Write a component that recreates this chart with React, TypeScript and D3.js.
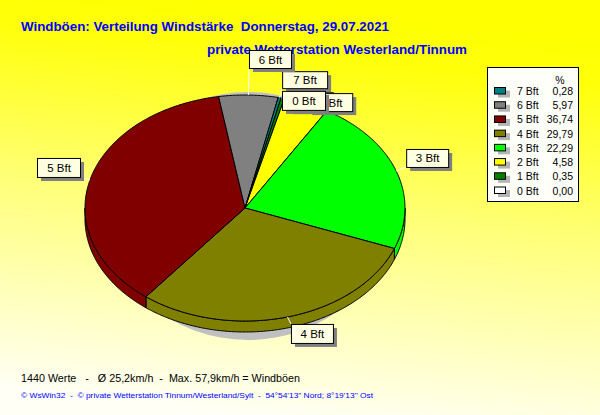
import React from "react";
import * as d3 from "d3";

// ---- data ----
const categories = ["0 Bft", "1 Bft", "2 Bft", "3 Bft", "4 Bft", "5 Bft", "6 Bft", "7 Bft"];
const percents = [0.0, 0.35, 4.58, 22.29, 29.79, 36.74, 5.97, 0.28];
const sliceColors = ["#ffffff", "#008000", "#ffff00", "#00ff00", "#808000", "#800000", "#808080", "#008080"];
const titleLine1 = "Windböen: Verteilung Windstärke  Donnerstag, 29.07.2021";
const titleLine2 = "private Wetterstation Westerland/Tinnum";
const footer1 = "1440 Werte   -   Ø 25,2km/h  -  Max. 57,9km/h = Windböen";
const footer2 = "© WsWin32  -  © private Wetterstation Tinnum/Westerland/Sylt  -  54°54'13\" Nord; 8°19'13\" Ost";

// ---- layout ----
const W = 600, H = 415;
const cx = 245, cy = 208, rx = 160, ry = 113, depth = 11;
const startDeg = 13;
// label box offsets relative to the slice anchor (dx, dy of box top-left), box size
const labelBoxes: Record<string, { dx: number; dy: number; w: number; h: number }> = {
  "1 Bft": { dx: 6, dy: -6, w: 44, h: 18 },
  "2 Bft": { dx: 2, dy: -10.5, w: 44, h: 18 },
  "0 Bft": { dx: 1, dy: -7, w: 43, h: 19 },
  "7 Bft": { dx: 2.5, dy: -26.5, w: 45, h: 17 },
  "6 Bft": { dx: 0.5, dy: -45, w: 42, h: 18 },
  "3 Bft": { dx: 10, dy: -22, w: 42, h: 18 },
  "4 Bft": { dx: 3.5, dy: 7, w: 42, h: 19 },
  "5 Bft": { dx: -53, dy: -22, w: 43, h: 19 },
};
const labelOrder = ["1 Bft", "2 Bft", "7 Bft", "0 Bft", "6 Bft", "3 Bft", "4 Bft", "5 Bft"];

const fmt = (v: number) => d3.format(".2f")(v).replace(".", ",");

function pt(a: number, dy = 0): [number, number] {
  return [cx + rx * Math.sin(a), cy - ry * Math.cos(a) + dy];
}
function arcPts(a0: number, a1: number, dy = 0): [number, number][] {
  const n = Math.max(2, Math.ceil(Math.abs(a1 - a0) / (Math.PI / 360)));
  return d3.range(n + 1).map((i) => pt(a0 + ((a1 - a0) * i) / n, dy));
}

export default function App() {
  const start = (startDeg * Math.PI) / 180;
  const pie = d3.pie<number>().sort(null).value((d) => d).startAngle(start).endAngle(start + 2 * Math.PI);
  const arcs = pie(percents);
  const line = d3.line();

  const sides = arcs
    .map((a, i) => {
      const s = Math.max(a.startAngle, Math.PI / 2);
      const e = Math.min(a.endAngle, (3 * Math.PI) / 2);
      if (e <= s) return null;
      const pts = [...arcPts(s, e), ...arcPts(e, s, depth)];
      return { i, d: line(pts) + "Z" };
    })
    .filter(Boolean) as { i: number; d: string }[];

  const tops = arcs
    .filter((a) => a.endAngle - a.startAngle > 0)
    .map((a) => {
      const pts: [number, number][] = [[cx, cy], ...arcPts(a.startAngle, a.endAngle)];
      return { i: a.index, d: line(pts) + "Z" };
    });

  const legendRows = d3.range(categories.length).reverse();
  const legY = d3.scaleLinear().domain([0, 7]).range([91, 190.5]);

  return (
    <svg width={W} height={H} style={{ position: "absolute", left: 0, top: 0, display: "block" }} fontFamily="'Liberation Sans', Arial, sans-serif">
      <defs>
        <linearGradient id="bg" x1="0.55" y1="0" x2="0.4" y2="1">
          <stop offset="0" stopColor="#ffff00" />
          <stop offset="0.13" stopColor="#ffff08" />
          <stop offset="0.5" stopColor="#ffff78" />
          <stop offset="1" stopColor="#fffff6" />
        </linearGradient>
      </defs>
      <rect x={0} y={0} width={W} height={H} fill="url(#bg)" />

      <text x={21} y={31} fontSize={13.3} fontWeight="bold" fill="#0000ff" textLength={368} lengthAdjust="spacingAndGlyphs" style={{ whiteSpace: "pre" }}>
        {titleLine1}
      </text>
      <text x={207} y={54} fontSize={13.3} fontWeight="bold" fill="#0000ff" textLength={260} lengthAdjust="spacingAndGlyphs">
        {titleLine2}
      </text>

      {/* shadow */}
      <ellipse cx={248} cy={216} rx={140} ry={124} fill="#c0c0c0" />

      {/* sides */}
      {sides.map((s) => (
        <path key={"s" + s.i} d={s.d} fill={sliceColors[s.i]} stroke="#000" strokeWidth={1} strokeLinejoin="round" />
      ))}
      {/* tops */}
      {tops.map((t) => (
        <path key={"t" + t.i} d={t.d} fill={sliceColors[t.i]} stroke="#000" strokeWidth={1} strokeLinejoin="round" />
      ))}

      {/* labels */}
      {labelOrder.map((name) => {
        const i = categories.indexOf(name);
        const a = arcs[i];
        const mid = (a.startAngle + a.endAngle) / 2;
        const [ax, ay] = pt(mid);
        const b = labelBoxes[name];
        const bx = ax + b.dx, by = ay + b.dy;
        // leader end: nearest point on box
        const lx = Math.max(bx, Math.min(ax, bx + b.w));
        const ly = Math.max(by, Math.min(ay, by + b.h));
        return (
          <g key={"l" + name}>
            <line x1={ax} y1={ay} x2={lx} y2={ly} stroke="#ffffff" strokeWidth={1} />
            <rect x={bx + 4} y={by + 4} width={b.w} height={b.h} fill="#808080" />
            <rect x={bx + 0.5} y={by + 0.5} width={b.w} height={b.h} fill="#ffffe1" stroke="#000" strokeWidth={1} />
            <text x={bx + b.w / 2 + 0.5} y={by + b.h / 2 + 4.5} fontSize={11.5} textAnchor="middle" fill="#000">
              {name}
            </text>
          </g>
        );
      })}

      {/* legend */}
      <rect x={487.5} y={67.5} width={91} height={134} fill="#fffffa" stroke="#000" strokeWidth={1} />
      <text x={560} y={84} fontSize={10.5} textAnchor="middle" fill="#000">%</text>
      {legendRows.map((i, r) => {
        const y = legY(r);
        return (
          <g key={"lg" + i}>
            <rect x={498} y={y - 0.5} width={12} height={7} fill="#b4b4b4" />
            <rect x={494.5} y={y - 3.5} width={11} height={6.5} fill={sliceColors[i]} stroke="#000" strokeWidth={1} />
            <text x={517} y={y + 4} fontSize={10.5} fill="#000">{categories[i]}</text>
            <text x={573} y={y + 4} fontSize={10.5} textAnchor="end" fill="#000">{fmt(percents[i])}</text>
          </g>
        );
      })}

      <text x={21} y={382} fontSize={11} fill="#000" textLength={279} lengthAdjust="spacingAndGlyphs" style={{ whiteSpace: "pre" }}>
        {footer1}
      </text>
      <text x={21} y={398} fontSize={7.5} fill="#0000ff" textLength={352} lengthAdjust="spacingAndGlyphs" style={{ whiteSpace: "pre" }}>
        {footer2}
      </text>
    </svg>
  );
}
